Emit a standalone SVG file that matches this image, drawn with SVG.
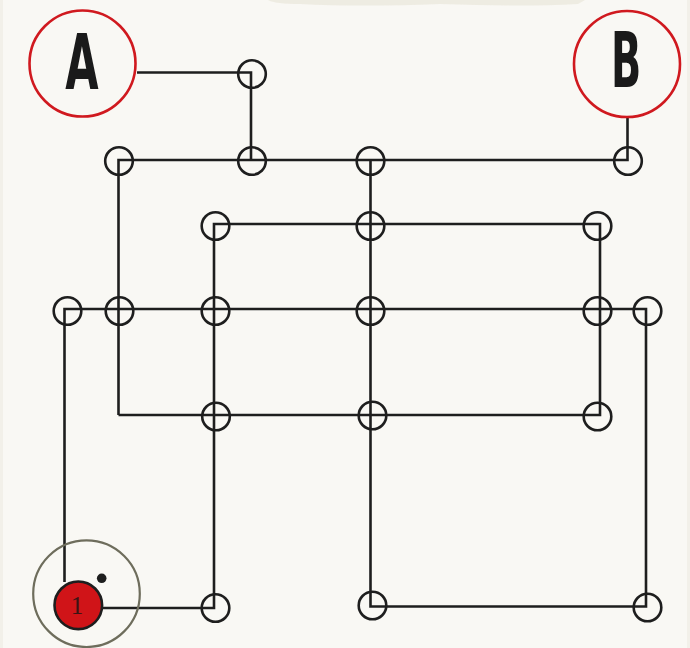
<svg xmlns="http://www.w3.org/2000/svg" width="690" height="648" viewBox="0 0 690 648">
<defs>
<style>
.bg{fill:#f9f8f4}
.wire{fill:none;stroke:#1e1e1e;stroke-width:2.6;stroke-linejoin:miter;stroke-linecap:butt}
.node{fill:none;stroke:#1e1e1e;stroke-width:2.6}
.term{fill:#f9f8f4;stroke:#d0191f;stroke-width:2.6}
.letter{font-family:"Liberation Sans Narrow","DejaVu Sans Condensed","Liberation Sans",sans-serif;font-weight:bold;font-size:76px;fill:#1a1a1a;text-anchor:middle}
</style>
</defs>
<rect class="bg" x="0" y="0" width="690" height="648"/>
<path d="M268,0 H585 L578,4 Q520,7 440,4 Q360,7 300,4 Q275,4 268,0 Z" fill="#e6e1d4" opacity="0.55"/>
<rect x="0" y="0" width="3" height="648" fill="#ece8de" opacity="0.5"/>
<rect x="687" y="0" width="3" height="648" fill="#ece8de" opacity="0.5"/>
<g id="connectors">
<path class="wire" d="M137,72.5 H251 V160"/>
<path class="wire" d="M118.5,415 V160 H627.5 V117.5"/>
<path class="wire" d="M370.5,160 V606.5 H646 V309 H64.5 V582"/>
<path class="wire" d="M103,608 H214 V224 H600 V415 H118.5"/>
</g>
<g id="A">
<circle class="term" cx="82.5" cy="63.5" r="53"/>
<text class="letter" transform="translate(82,89) scale(0.63,1)" x="0" y="0">A</text>
</g>
<g id="B">
<circle class="term" cx="627" cy="64" r="53"/>
<text class="letter" transform="translate(626,87) scale(0.58,1)" x="0" y="0">B</text>
</g>
<g id="nodes">
<circle id="n1" class="node" cx="252" cy="74" r="13.8"/>
<circle id="n2" class="node" cx="119" cy="161" r="13.8"/>
<circle id="n3" class="node" cx="252" cy="161" r="13.8"/>
<circle id="n4" class="node" cx="370.5" cy="161" r="13.8"/>
<circle id="n5" class="node" cx="628" cy="161" r="13.8"/>
<circle id="n6" class="node" cx="215.5" cy="226" r="13.8"/>
<circle id="n7" class="node" cx="370.5" cy="226" r="13.8"/>
<circle id="n8" class="node" cx="597.5" cy="226" r="13.8"/>
<circle id="n9" class="node" cx="67.5" cy="311" r="13.8"/>
<circle id="n10" class="node" cx="119.5" cy="311" r="13.8"/>
<circle id="n11" class="node" cx="215.5" cy="311" r="13.8"/>
<circle id="n12" class="node" cx="370.5" cy="311" r="13.8"/>
<circle id="n13" class="node" cx="597.5" cy="311" r="13.8"/>
<circle id="n14" class="node" cx="647.5" cy="311" r="13.8"/>
<circle id="n15" class="node" cx="216" cy="416.5" r="13.8"/>
<circle id="n16" class="node" cx="372.5" cy="415.5" r="13.8"/>
<circle id="n17" class="node" cx="597.5" cy="416.5" r="13.8"/>
<circle id="n18" class="node" cx="215.5" cy="608" r="13.8"/>
<circle id="n19" class="node" cx="372.5" cy="605.5" r="13.8"/>
<circle id="n20" class="node" cx="647.5" cy="607.5" r="13.8"/>
</g>
<g id="start">
<circle cx="86.5" cy="593.7" r="53.3" fill="none" stroke="#6e6d5c" stroke-width="2.2"/>
<circle cx="78.3" cy="605.3" r="23.8" fill="#d01418" stroke="#1e1e1e" stroke-width="2.6"/>
<text x="77" y="614" font-family="'Liberation Serif','DejaVu Serif',serif" font-size="25" fill="#3a1414" text-anchor="middle">1</text>
<circle cx="101.7" cy="578.3" r="4.8" fill="#1e1e1e"/>
</g>
</svg>
